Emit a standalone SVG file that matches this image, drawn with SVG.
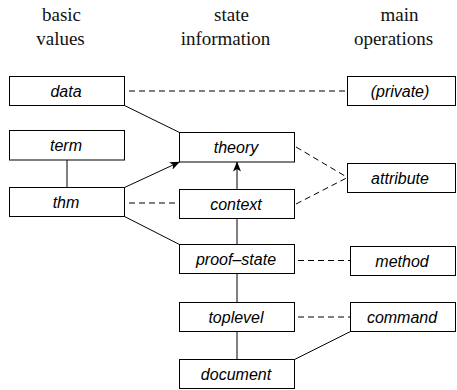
<svg xmlns="http://www.w3.org/2000/svg" width="457" height="390" viewBox="0 0 457 390">
<style>
.hdr{font-family:"Liberation Serif","Times New Roman",serif;font-size:19px;fill:#111;text-anchor:middle}
.box rect{fill:#fff;stroke:#000;stroke-width:1}
.box text{font-family:"Liberation Sans",Arial,sans-serif;font-style:italic;font-size:16px;fill:#000;text-anchor:middle}
.solid{stroke:#000;stroke-width:1;fill:none}
.dash{stroke:#000;stroke-width:1;fill:none;stroke-dasharray:6 4}
</style>
<defs>
<marker id="arr" viewBox="0 0 10 8" refX="9.5" refY="4" markerWidth="10" markerHeight="8" markerUnits="userSpaceOnUse" orient="auto">
<path d="M0,0 L10,4 L0,8 L2.5,4 z" fill="#000"/>
</marker>
</defs>
<g id="headers">
<text class="hdr" x="61.5" y="21">basic</text>
<text class="hdr" x="60.5" y="45">values</text>
<text class="hdr" x="231.5" y="21">state</text>
<text class="hdr" x="225.5" y="45">information</text>
<text class="hdr" x="399.5" y="21">main</text>
<text class="hdr" x="393.5" y="45">operations</text>
</g>
<g id="connectors">
<line class="dash" x1="129" y1="91" x2="347.5" y2="91"/>
<line class="dash" x1="129" y1="203" x2="179.5" y2="203"/>
<line class="dash" x1="296" y1="147" x2="347.5" y2="177.5"/>
<line class="dash" x1="296" y1="204" x2="347.5" y2="177.5"/>
<line class="dash" x1="298" y1="260.5" x2="350.5" y2="260.5"/>
<line class="dash" x1="298" y1="317" x2="350.5" y2="317"/>
<line class="solid" x1="124.5" y1="105.5" x2="179.5" y2="132.5"/>
<line class="solid" x1="67" y1="160" x2="67" y2="187.5"/>
<line class="solid" x1="124.5" y1="187.5" x2="179.5" y2="162" marker-end="url(#arr)"/>
<line class="solid" x1="124.5" y1="216.5" x2="179.5" y2="244.5"/>
<line class="solid" x1="237" y1="189.5" x2="237" y2="162" marker-end="url(#arr)"/>
<line class="solid" x1="237" y1="218.5" x2="237" y2="244.5"/>
<line class="solid" x1="237" y1="273.5" x2="237" y2="302.5"/>
<line class="solid" x1="237" y1="331.5" x2="237" y2="359.5"/>
<line class="solid" x1="350.5" y1="331.5" x2="294.5" y2="359.5"/>
</g>
<g id="data" class="box"><rect x="9.5" y="76.5" width="115" height="29"/><text x="66" y="96.5">data</text></g>
<g id="term" class="box"><rect x="9.5" y="130.5" width="115" height="29.5"/><text x="66" y="151">term</text></g>
<g id="thm" class="box"><rect x="9.5" y="187.5" width="115" height="29"/><text x="66" y="207.5">thm</text></g>
<g id="theory" class="box"><rect x="179.5" y="132.5" width="115" height="29.5"/><text x="236" y="153">theory</text></g>
<g id="context" class="box"><rect x="179.5" y="189.5" width="115" height="29"/><text x="236" y="210">context</text></g>
<g id="proof-state" class="box"><rect x="179.5" y="244.5" width="115" height="29"/><text x="236" y="265">proof–state</text></g>
<g id="toplevel" class="box"><rect x="179.5" y="302.5" width="115" height="29"/><text x="236" y="323">toplevel</text></g>
<g id="document" class="box"><rect x="179.5" y="359.5" width="115" height="29"/><text x="236" y="380">document</text></g>
<g id="private" class="box"><rect x="347.5" y="76.5" width="108" height="29"/><text x="400" y="96.5">(private)</text></g>
<g id="attribute" class="box"><rect x="347.5" y="163.5" width="108" height="29"/><text x="400" y="184">attribute</text></g>
<g id="method" class="box"><rect x="350.5" y="246.5" width="105" height="29"/><text x="402" y="267">method</text></g>
<g id="command" class="box"><rect x="350.5" y="302.5" width="105" height="29"/><text x="402" y="323">command</text></g>
</svg>
